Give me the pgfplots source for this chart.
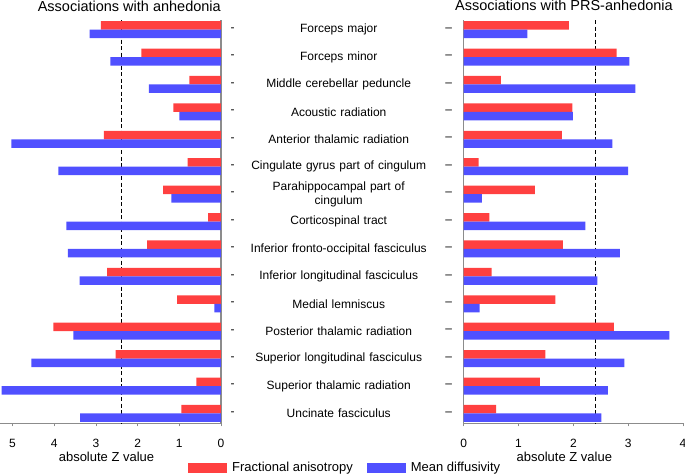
\documentclass[border=0pt]{standalone}
\usepackage{fontspec}
\setmainfont{Liberation Sans}
\usepackage{pgfplots}
\pgfplotsset{compat=1.18}
\definecolor{fared}{RGB}{255,64,64}
\definecolor{mdblue}{RGB}{80,80,255}
\definecolor{axgray}{RGB}{140,140,140}
\begin{document}
\begin{tikzpicture}
\useasboundingbox (0,0) rectangle (685pt,475pt);
\pgfplotsset{
 common/.style={
  scale only axis, height=403.3pt, anchor=south west,
  xbar, bar width=0.31,
  ymin=-0.35, ymax=14.36, y dir=reverse,
  xmin=0,
  axis x line*=bottom,
  axis line style={axgray, line width=1.2pt},
  ytick={0,...,14},
  ytick style={draw=none},
  xtick style={axgray, line width=0.8pt},
  tick align=outside, major tick length=3pt,
  xticklabel style={font=\fontsize{12}{14}\selectfont, anchor=base, yshift=-21pt},
  yticklabel style={font=\fontsize{12}{14}\selectfont},
  /pgf/number format/assume math mode=true,
  xlabel={absolute Z value},
  xlabel style={font=\fontsize{13}{15}\selectfont, at={(axis description cs:0.5,0)}, anchor=base, yshift=-38.4pt},
  title style={font=\fontsize{14.5}{16}\selectfont, inner sep=0pt},
  clip=false,
 }
}
\begin{axis}[common,
  at={(0pt,51.7pt)}, width=221pt,
  xmax=5.3, x dir=reverse, xtick={0,...,5},
  axis y line*=right,
  yticklabel={-},
  yticklabel style={xshift=3pt},
  xlabel style={xshift=-4pt},
  extra x ticks={2.39}, extra x tick labels={},
  extra x tick style={grid=major, major tick length=0pt, major grid style={black, line width=0.9pt, dash pattern=on 4pt off 2.5pt}},
  title={Associations with anhedonia},
  title style={at={(axis description cs:1,1)}, anchor=base east, yshift=3pt},
  legend columns=2,
  legend style={at={(axis description cs:0.8507,-0.110)}, anchor=west, draw=none, fill=none, inner sep=0pt, font=\fontsize{13}{15}\selectfont, /tikz/every even column/.append style={column sep=12pt}, /tikz/every odd column/.append style={column sep=3pt}},
  legend image code/.code={\fill[#1] (0pt,-5pt) rectangle (39pt,5pt);},
]
\addplot[fill=fared, draw=none, bar shift=-0.155] coordinates {
(2.88,0) (1.91,1) (0.76,2) (1.14,3) (2.81,4) (0.80,5) (1.39,6) (0.31,7)
(1.77,8) (2.73,9) (1.05,10) (4.02,11) (2.53,12) (0.59,13) (0.95,14)};
\addplot[fill=mdblue, draw=none, bar shift=0.155] coordinates {
(3.15,0) (2.65,1) (1.73,2) (1.00,3) (5.03,4) (3.90,5) (1.19,6) (3.71,7)
(3.67,8) (3.39,9) (0.16,10) (3.54,11) (4.55,12) (5.26,13) (3.38,14)};
\legend{Fractional anisotropy, Mean diffusivity}
\end{axis}
\begin{axis}[common,
  at={(463.7pt,51.7pt)}, width=219.3pt,
  xmax=4, xtick={0,...,4},
  axis y line*=left,
  yticklabel={--},
  yticklabel style={xshift=-5pt},
  xlabel style={xshift=-9pt},
  extra x ticks={2.40}, extra x tick labels={},
  extra x tick style={grid=major, major tick length=0pt, major grid style={black, line width=0.9pt, dash pattern=on 4pt off 2.5pt}},
  extra y ticks={0,...,14},
  extra y tick labels={Forceps major, Forceps minor, Middle cerebellar peduncle, Acoustic radiation, Anterior thalamic radiation, Cingulate gyrus part of cingulum, {Parahippocampal part of\\cingulum}, Corticospinal tract, Inferior fronto-occipital fasciculus, Inferior longitudinal fasciculus, Medial lemniscus, Posterior thalamic radiation, Superior longitudinal fasciculus, Superior thalamic radiation, Uncinate fasciculus},
  extra y tick style={yticklabel style={anchor=center, xshift=-117pt, text width=230pt, align=center}},
  title={Associations with PRS-anhedonia},
  title style={at={(axis description cs:0,1)}, anchor=base west, xshift=-8.7pt, yshift=3.2pt},
]
\addplot[fill=fared, draw=none, bar shift=-0.155] coordinates {
(1.92,0) (2.79,1) (0.68,2) (1.98,3) (1.79,4) (0.27,5) (1.30,6) (0.47,7)
(1.81,8) (0.51,9) (1.67,10) (2.74,11) (1.49,12) (1.39,13) (0.59,14)};
\addplot[fill=mdblue, draw=none, bar shift=0.155] coordinates {
(1.16,0) (3.02,1) (3.13,2) (1.99,3) (2.71,4) (3.00,5) (0.33,6) (2.22,7)
(2.85,8) (2.44,9) (0.29,10) (3.75,11) (2.93,12) (2.63,13) (2.51,14)};
\end{axis}
\end{tikzpicture}
\end{document}
